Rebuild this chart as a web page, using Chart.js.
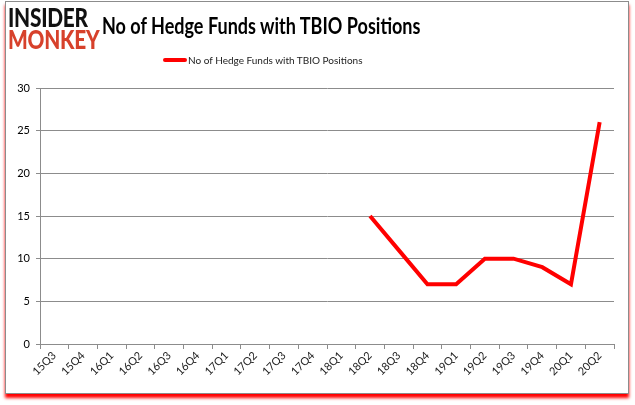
<!DOCTYPE html>
<html lang="en">
<head>
<meta charset="UTF-8">
<title>No of Hedge Funds with TBIO Positions</title>
<script src="https://cdn.jsdelivr.net/npm/chart.js@4.4.0/dist/chart.umd.min.js"></script>
<style>
   body { margin: 0; background: #fff; }
   .frame {
      position: absolute; left: 5px; top: 1px; width: 622px; height: 391px;
      border: 1px solid #8c8c8c; background: #fff;
      box-shadow: 0 4px 3px #ff0000;
   }
   .logo { position: absolute; left: 8px; top: 6px; font-family: Lato, sans-serif; font-weight: 900; line-height: 22px; font-size: 26px; letter-spacing: -0.3px; transform: scaleX(0.8); transform-origin: left top; }
   .logo .a { color: #111; }
   .logo .b { color: #d7412b; }
   .title { position: absolute; left: 102px; top: 12px; font-family: Lato, sans-serif; font-weight: bold; font-size: 22px; color: #000; transform: scaleX(0.82); transform-origin: left top; white-space: nowrap; }
   .legend { position: absolute; left: 163px; top: 54px; font-family: Lato, sans-serif; font-size: 10px; color: #222; display: flex; align-items: center; }
   .legend span.sw { display: inline-block; width: 24px; height: 4px; background: #ff0000; border-radius: 2px; margin-right: 1px; }
   .chart-container { position: absolute; left: 0; top: 0; width: 635px; height: 405px; }
</style>
</head>
<body>
   <div class="frame"></div>
   <div class="chart-container"><canvas id="myChart"></canvas></div>
   <div class="logo"><div class="a">INSIDER</div><div class="b">MONKEY</div></div>
   <div class="title" id="title"></div>
   <div class="legend"><span class="sw"></span><span id="legendText"></span></div>

<script>
   const seriesLabel = 'No of Hedge Funds with TBIO Positions';
   const quarters = ['15Q3', '15Q4', '16Q1', '16Q2', '16Q3', '16Q4', '17Q1', '17Q2', '17Q3', '17Q4',
      '18Q1', '18Q2', '18Q3', '18Q4', '19Q1', '19Q2', '19Q3', '19Q4', '20Q1', '20Q2'];
   const hedgeFunds = [null, null, null, null, null, null, null, null, null, null,
      null, 15, 11, 7, 7, 10, 10, 9, 7, 26];
   const yTicks = [0, 5, 10, 15, 20, 25, 30];

   document.getElementById('title').textContent = seriesLabel;
   document.getElementById('legendText').textContent = seriesLabel;

   const config = {
      type: 'line',
      data: {
         labels: quarters,
         datasets: [{
            label: seriesLabel,
            data: hedgeFunds,
            borderColor: '#ff0000',
            backgroundColor: '#ff0000',
            borderWidth: 4,
            pointRadius: 0,
            tension: 0,
            fill: false,
            spanGaps: false
         }]
      },
      options: {
         responsive: true,
         maintainAspectRatio: false,
         animation: false,
         layout: { padding: { top: 88, right: 21, left: 0, bottom: 0 } },
         plugins: { legend: { display: false }, title: { display: false }, tooltip: { enabled: false } },
         scales: {
            x: {
               offset: true,
               grid: { offset: true, drawOnChartArea: false, color: '#8c8c8c', tickLength: 5 },
               border: { color: '#8c8c8c' },
               ticks: { maxRotation: 45, minRotation: 45, color: '#222', font: { family: 'Lato', size: 11 }, padding: 0 },
               afterFit: s => { s.height = 61; }
            },
            y: {
               min: 0, max: 30,
               afterBuildTicks: s => { s.ticks = yTicks.map(v => ({ value: v })); },
               grid: { color: '#8c8c8c', tickLength: 4 },
               border: { color: '#8c8c8c' },
               ticks: { color: '#000', font: { family: 'Lato', size: 11 }, padding: 6 },
               afterFit: s => { s.width = 40; }
            }
         }
      }
   };

   new Chart(document.getElementById('myChart').getContext('2d'), config);
</script>
</body>
</html>
